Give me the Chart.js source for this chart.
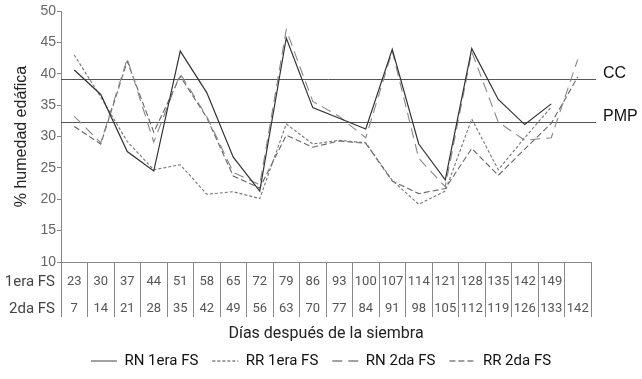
<!DOCTYPE html>
<html>
<head>
<meta charset="utf-8">
<script src="https://cdn.jsdelivr.net/npm/chart.js@4.4.0/dist/chart.umd.min.js"></script>
<style>
  html, body { margin: 0; padding: 0; background: #fff; }
  #wrap { width: 642px; height: 379px; }
</style>
</head>
<body>
<div id="wrap"><canvas id="chart" width="642" height="379"></canvas></div>
<script>
// Días después de la siembra, por fecha de siembra
const days1era = [23, 30, 37, 44, 51, 58, 65, 72, 79, 86, 93, 100, 107, 114, 121, 128, 135, 142, 149, ''];
const days2da = [7, 14, 21, 28, 35, 42, 49, 56, 63, 70, 77, 84, 91, 98, 105, 112, 119, 126, 133, 142];
const rowNames = ['1era FS', '2da FS'];

// % humedad edáfica
const rn1era = [40.6, 36.7, 27.6, 24.5, 43.6, 37.0, 26.7, 21.3, 45.7, 34.6, 32.9, 31.2, 43.9, 28.8, 23.1, 44.0, 35.9, 31.9, 35.2, null];
const rr1era = [43.0, 36.3, 29.2, 24.7, 25.5, 20.8, 21.2, 20.1, 32.0, 28.8, 29.4, 29.0, 23.0, 19.2, 21.3, 32.8, 24.7, 29.8, 34.7, null];
const rn2da = [33.2, 29.0, 42.4, 29.1, 40.0, 33.2, 24.3, 22.3, 47.0, 35.6, 33.2, 29.8, 43.6, 26.5, 22.0, 43.5, 32.3, 29.4, 29.8, 42.3];
const rr2da = [31.6, 28.8, 42.0, 30.7, 39.6, 33.0, 23.7, 21.8, 30.2, 28.3, 29.3, 28.9, 22.9, 20.9, 21.7, 28.1, 23.8, 28.0, 32.1, 39.5];

// capacidad de campo y punto de marchitez permanente
const refNames = ['CC', 'PMP'];
const refValues = [39.2, 32.3];

// líneas CC / PMP y encabezados de filas de la tabla
const refLinesPlugin = {
    id: 'refLines',
    beforeDatasetsDraw(chart) {
        const { ctx, chartArea, scales: { x, y } } = chart;
        ctx.save();
        refValues.forEach((val, i) => {
            const py = Math.round(y.getPixelForValue(val)) + 0.5;
            ctx.strokeStyle = '#555';
            ctx.lineWidth = 1;
            ctx.beginPath();
            ctx.moveTo(chartArea.left, py);
            ctx.lineTo(chartArea.right + 5, py);
            ctx.stroke();
            ctx.fillStyle = '#111';
            ctx.font = '16px "Liberation Sans"';
            ctx.textAlign = 'left';
            ctx.textBaseline = 'alphabetic';
            ctx.fillText(refNames[i], chartArea.right + 12, py - 1.5);
        });
        ctx.font = '15px Roboto';
        ctx.fillStyle = '#444';
        ctx.textAlign = 'right';
        ctx.textBaseline = 'middle';
        rowNames.forEach((name, i) => {
            ctx.fillText(name, x.left - 6, x.top + 20 + i * 27);
        });
        ctx.restore();
    }
};

const ctx = document.getElementById('chart');
new Chart(ctx, {
    type: 'line',
    data: {
        labels: days2da.map(String),
        datasets: [
            { label: 'RN 1era FS', data: rn1era, borderColor: '#333', borderWidth: 1.2, borderDash: [] },
            { label: 'RR 1era FS', data: rr1era, borderColor: '#777', borderWidth: 1.1, borderDash: [3, 2] },
            { label: 'RN 2da FS', data: rn2da, borderColor: '#888', borderWidth: 1.1, borderDash: [10, 6] },
            { label: 'RR 2da FS', data: rr2da, borderColor: '#666', borderWidth: 1.1, borderDash: [6, 3] }
        ]
    },
    options: {
        responsive: false,
        animation: false,
        elements: {
            point: { radius: 0, hoverRadius: 0 },
            line: { tension: 0, fill: false }
        },
        layout: { padding: { top: 11, right: 0, bottom: 0.5, left: 0 } },
        plugins: {
            legend: {
                position: 'bottom',
                labels: {
                    usePointStyle: true,
                    pointStyle: 'line',
                    pointStyleWidth: 26,
                    color: '#111',
                    font: { family: 'Roboto', size: 15 },
                    padding: 14,
                    generateLabels(chart) {
                        const items = Chart.defaults.plugins.legend.labels.generateLabels(chart);
                        items.forEach((it, i) => {
                            const ds = chart.data.datasets[i];
                            it.lineDash = ds.borderDash;
                            it.strokeStyle = '#444';
                            it.lineWidth = 1.2;
                        });
                        return items;
                    }
                }
            },
            tooltip: { enabled: false }
        },
        scales: {
            x: {
                offset: true,
                grid: { drawOnChartArea: false, offset: true, tickLength: 55, color: '#888', tickColor: '#888' },
                border: { color: '#888' },
                ticks: {
                    autoSkip: false,
                    maxRotation: 0,
                    padding: -48.5,
                    color: '#555',
                    font: { family: 'Roboto', size: 13, lineHeight: 27 / 13 },
                    callback: (v, i) => [String(days1era[i]), String(days2da[i])]
                },
                title: {
                    display: true,
                    text: 'Días después de la siembra',
                    color: '#222',
                    font: { family: 'Roboto', size: 16 },
                    padding: { top: 0, bottom: -4.1 }
                },
                afterFit(scale) { scale.height = 77.5; }
            },
            y: {
                min: 10,
                max: 50,
                ticks: { stepSize: 5, color: '#666', padding: 1, font: { family: 'Liberation Sans', size: 14 } },
                grid: { drawOnChartArea: false, tickLength: 4, color: '#888', tickColor: '#888' },
                border: { color: '#888' },
                title: {
                    display: true,
                    text: '% humedad edáfica',
                    color: '#222',
                    font: { family: 'Liberation Sans', size: 16 },
                    padding: { top: 12, bottom: 0 }
                },
                afterFit(scale) { scale.width = 61; }
            },
            // espacio a la derecha para las etiquetas CC / PMP
            yRight: {
                position: 'right',
                display: true,
                grid: { display: false },
                border: { display: false },
                ticks: { display: false },
                afterFit(scale) { scale.width = 51; }
            }
        }
    },
    plugins: [refLinesPlugin]
});
</script>
</body>
</html>
